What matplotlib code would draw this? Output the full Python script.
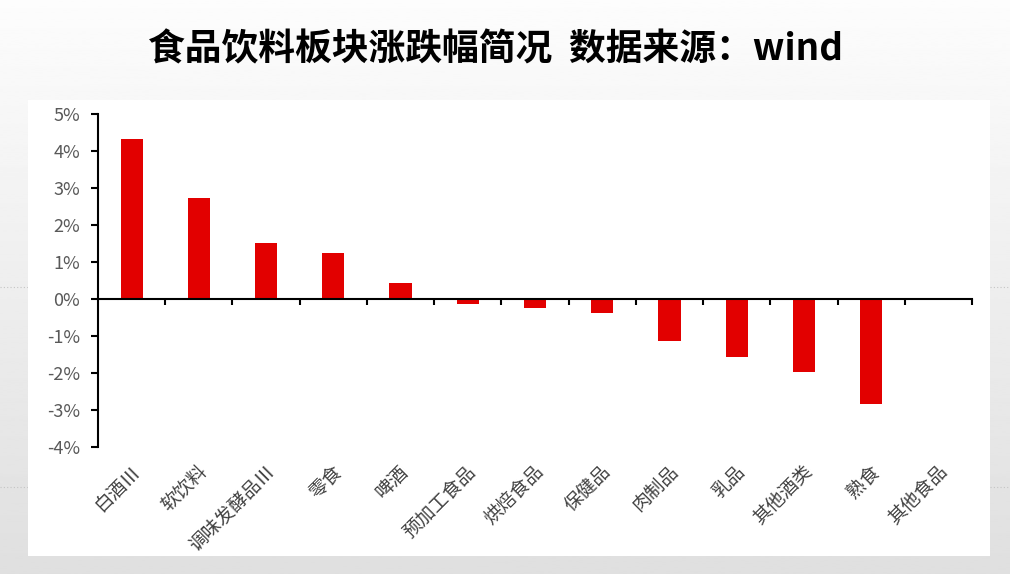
#!/usr/bin/env python3

import numpy as np
from matplotlib import pyplot, ticker, transforms
from matplotlib.patches import Rectangle
from matplotlib.lines import Line2D

pyplot.rcParams['font.family'] = ['Noto Sans CJK SC', 'DejaVu Sans']

CATEGORIES = ["白酒Ⅲ", "软饮料", "调味发酵品Ⅲ", "零食", "啤酒", "预加工食品", "烘焙食品",
              "保健品", "肉制品", "乳品", "其他酒类", "熟食", "其他食品"]
CHANGE_PCT = [4.33, 2.74, 1.51, 1.24, 0.42, -0.14, -0.24, -0.38, -1.14, -1.56, -1.97, -2.84, 0.0]
Y_TICKS = [-4, -3, -2, -1, 0, 1, 2, 3, 4, 5]

RED = '#e20000'


def main():
    W, H = 1010, 574
    fig = pyplot.figure(figsize=(W / 100, H / 100), dpi=100)

    # slide background: soft vertical gradient
    bg = fig.add_axes([0, 0, 1, 1], zorder=-3)
    grad = np.linspace(0.99, 0.875, 256).reshape(-1, 1)
    bg.imshow(grad, cmap='gray', vmin=0, vmax=1, aspect='auto', extent=[0, 1, 0, 1])
    bg.set_axis_off()

    # dotted guide lines of the slide template
    for yp in (287, 487):
        fig.add_artist(Line2D([0, 1], [1 - yp / H, 1 - yp / H], transform=fig.transFigure,
                              color='#c4c4c4', lw=0.8, ls=(0, (1, 2)), zorder=-2))

    # white chart panel
    fig.add_artist(Rectangle((28 / W, 1 - 556 / H), (990 - 28) / W, (556 - 100) / H,
                             transform=fig.transFigure, facecolor='white',
                             edgecolor='none', zorder=-1))

    fig.text(496 / W, 1 - 50 / H, "食品饮料板块涨跌幅简况  数据来源：wind",
             ha='center', va='center', fontsize=26.5, fontweight='bold', color='black')

    ax = fig.add_axes([98 / W, 1 - 447 / H, 874 / W, 333 / H])
    ax.patch.set_alpha(0)

    x = np.arange(len(CATEGORIES))
    ax.bar(x, CHANGE_PCT, width=0.33, color=RED, zorder=2)

    ax.set_xlim(-0.5, len(CATEGORIES) - 0.5)
    ax.set_ylim(-4, 5)
    ax.set_yticks(Y_TICKS)
    ax.yaxis.set_major_formatter(ticker.FuncFormatter(lambda v, p: f"{v:.0f}%"))

    for side in ("top", "right"):
        ax.spines[side].set_visible(False)
    ax.spines["bottom"].set_position(("data", 0))
    for side in ("left", "bottom"):
        ax.spines[side].set_linewidth(1.5)
        ax.spines[side].set_color('black')
    ax.spines["bottom"].set_zorder(3)

    ax.set_xticks(np.arange(len(CATEGORIES)) + 0.5)
    ax.tick_params(axis='x', direction='out', length=4, width=1.5, labelbottom=False)
    ax.tick_params(axis='y', direction='out', length=5, width=1.5, labelsize=13,
                   labelcolor='#595959', pad=8)

    # category labels along the bottom of the plot area
    trans = transforms.blended_transform_factory(ax.transData, ax.transAxes)
    offset = transforms.ScaledTranslation(-2 / 100, -14 / 100, fig.dpi_scale_trans)
    for xi, name in zip(x, CATEGORIES):
        ax.text(xi, 0, name, transform=trans + offset, rotation=45, rotation_mode='anchor',
                ha='right', va='top', fontsize=13.5, color='#404040')

    fig.savefig("out.png", dpi=100)


if __name__ == '__main__':
    main()
